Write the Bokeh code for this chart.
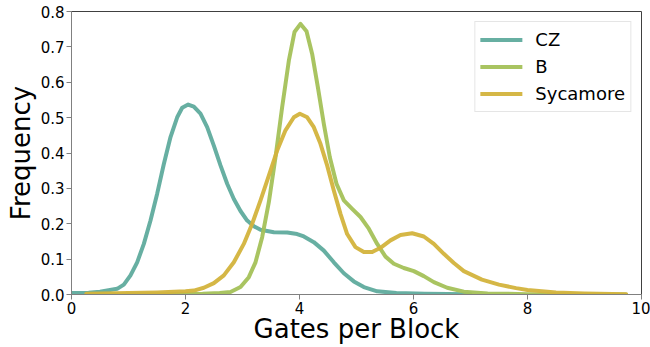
from bokeh.plotting import figure
from bokeh.models import Range1d, FixedTicker, Legend, LegendItem
from bokeh.embed import file_html
from bokeh.resources import INLINE

# ---- data ----
cz_x = [0.0, 0.3, 0.5, 0.65, 0.80, 0.918, 1.035, 1.152, 1.269, 1.386, 1.503, 1.620, 1.737,
        1.854, 1.942, 2.047, 2.146, 2.263, 2.380, 2.497, 2.614, 2.731, 2.848, 2.965, 3.082,
        3.199, 3.316, 3.550, 3.784, 3.959, 4.076, 4.251, 4.427, 4.602, 4.778, 4.953, 5.129,
        5.363, 5.7, 6.2, 7.0]
cz_y = [0.004, 0.005, 0.008, 0.012, 0.016, 0.028, 0.054, 0.091, 0.143, 0.209, 0.285, 0.369,
        0.445, 0.501, 0.528, 0.537, 0.531, 0.511, 0.473, 0.421, 0.365, 0.313, 0.270, 0.236,
        0.209, 0.193, 0.183, 0.176, 0.175, 0.171, 0.164, 0.148, 0.124, 0.091, 0.060, 0.037,
        0.021, 0.009, 0.004, 0.002, 0.001]

b_x = [0.26, 1.5, 2.3, 2.6, 2.789, 2.965, 3.111, 3.228, 3.345, 3.462, 3.579, 3.696, 3.813,
       3.912, 4.018, 4.123, 4.222, 4.322, 4.427, 4.532, 4.649, 4.778, 4.924, 5.070, 5.216,
       5.363, 5.509, 5.655, 5.830, 6.006, 6.181, 6.357, 6.591, 6.883, 7.3, 8.0, 9.73]
b_y = [0.0, 0.001, 0.002, 0.004, 0.007, 0.021, 0.049, 0.091, 0.162, 0.261, 0.388, 0.530,
       0.661, 0.742, 0.765, 0.744, 0.680, 0.586, 0.482, 0.388, 0.313, 0.266, 0.242, 0.219,
       0.186, 0.143, 0.107, 0.087, 0.075, 0.066, 0.052, 0.035, 0.019, 0.008, 0.003, 0.001, 0.0]

syc_x = [0.26, 1.0, 1.5, 1.8, 2.0, 2.146, 2.322, 2.497, 2.673, 2.848, 3.023, 3.170, 3.316,
         3.462, 3.608, 3.754, 3.901, 4.006, 4.135, 4.251, 4.368, 4.485, 4.602, 4.719, 4.836,
         4.982, 5.129, 5.275, 5.421, 5.596, 5.772, 5.977, 6.181, 6.357, 6.532, 6.708, 6.883,
         7.2, 7.5, 7.8, 8.0, 8.5, 9.0, 9.73]
syc_y = [0.002, 0.004, 0.006, 0.008, 0.009, 0.011, 0.019, 0.032, 0.054, 0.091, 0.143, 0.200,
         0.266, 0.336, 0.407, 0.464, 0.501, 0.511, 0.501, 0.473, 0.426, 0.365, 0.294, 0.228,
         0.171, 0.134, 0.120, 0.120, 0.132, 0.153, 0.168, 0.173, 0.164, 0.143, 0.115, 0.089,
         0.066, 0.042, 0.028, 0.018, 0.013, 0.006, 0.003, 0.001]

series_names = ["CZ", "B", "Sycamore"]
series_colors = ["#5fab9d", "#a4c158", "#d3b33c"]
x_ticks = [0, 2, 4, 6, 8, 10]
y_ticks = [0.0, 0.1, 0.2, 0.3, 0.4, 0.5, 0.6, 0.7, 0.8]

FONT = "DejaVu Sans"

p = figure(width=650, height=347, output_backend="svg", toolbar_location=None,
           x_range=Range1d(0, 10), y_range=Range1d(0, 0.8),
           min_border_left=71, min_border_right=9, min_border_top=11, min_border_bottom=53)

p.xgrid.visible = False
p.ygrid.visible = False
p.background_fill_color = "white"
p.border_fill_color = "white"
p.outline_line_color = "#404040"
p.outline_line_width = 1

renderers = []
for xs, ys, c in zip([cz_x, b_x, syc_x], [cz_y, b_y, syc_y], series_colors):
    r = p.line(xs, ys, line_color=c, line_width=4, line_alpha=0.95,
               line_join="round", line_cap="round")
    renderers.append(r)

for ax in (p.xaxis[0], p.yaxis[0]):
    ax.axis_line_color = "#808080"
    ax.major_tick_line_color = "#808080"
    ax.minor_tick_line_color = None
    ax.major_tick_out = 5
    ax.major_tick_in = 0
    ax.major_label_text_font = FONT
    ax.major_label_text_font_size = "15px"
    ax.major_label_text_color = "black"
    ax.major_label_standoff = 2
    ax.axis_label_text_font = FONT
    ax.axis_label_text_font_size = "26px"
    ax.axis_label_text_font_style = "normal"
    ax.axis_label_text_color = "black"

p.xaxis[0].ticker = FixedTicker(ticks=x_ticks)
p.yaxis[0].ticker = FixedTicker(ticks=y_ticks)
p.xaxis[0].major_label_overrides = {t: str(t) for t in x_ticks}
p.yaxis[0].major_label_overrides = {t: f"{t:.1f}" for t in y_ticks}
p.xaxis[0].axis_label = "Gates per Block"
p.yaxis[0].axis_label = "Frequency"
p.xaxis[0].axis_label_standoff = -3
p.yaxis[0].axis_label_standoff = 2

legend = Legend(items=[LegendItem(label=n, renderers=[r]) for n, r in zip(series_names, renderers)],
                location="top_right")
legend.label_text_font = FONT
legend.label_text_font_size = "18px"
legend.label_text_color = "black"
legend.glyph_width = 42
legend.glyph_height = 25
legend.label_height = 25
legend.label_standoff = 13
legend.spacing = 2
legend.padding = 5
legend.margin = 10
legend.border_line_color = "#cccccc"
legend.border_line_width = 1
legend.background_fill_color = "white"
legend.background_fill_alpha = 0.8
p.add_layout(legend)

open("out.html", "w").write(file_html(p, INLINE))
